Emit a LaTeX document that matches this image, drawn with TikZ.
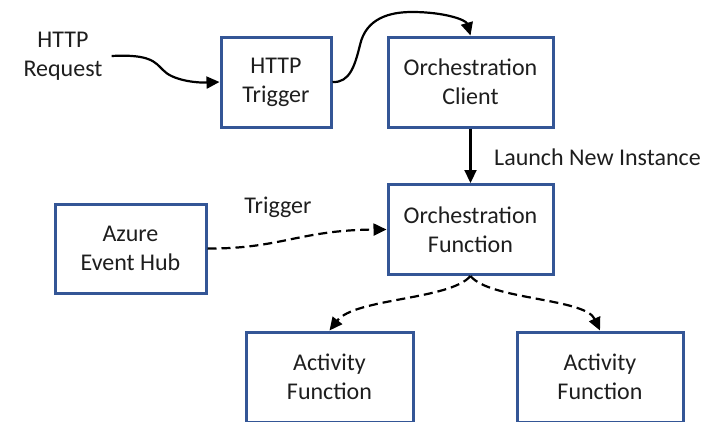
\documentclass[tikz,border=0pt]{standalone}
\usepackage{fontspec}
\setmainfont{Carlito}
\usetikzlibrary{arrows.meta}
\definecolor{boxblue}{RGB}{52,86,150}
\definecolor{txt}{RGB}{30,30,30}
\tikzset{
  box/.style={draw=boxblue, line width=3pt, fill=white, minimum width=#1, minimum height=90pt, align=center, inner sep=0pt, text=txt, font=\fontsize{24}{29}\selectfont},
  lbl/.style={align=center, inner sep=0pt, text=txt, font=\fontsize{24}{29}\selectfont},
  arr/.style={line width=2.2pt, -{Triangle[length=13pt,width=12pt]}},
  darr/.style={arr, dash pattern=on 9pt off 5pt}
}
\begin{document}
\begin{tikzpicture}[x=1pt,y=-1pt]
\useasboundingbox (0,0) rectangle (704,421);
\clip (0,0) rectangle (704,421);
\fill[white] (0,0) rectangle (704,421);
\node[box=110pt] (trig) at (276,82) {HTTP\\Trigger};
\node[box=165pt] (client) at (470.5,82) {Orchestration\\Client};
\node[box=165pt] (orch) at (470.5,229.5) {Orchestration\\Function};
\node[box=151pt, minimum height=89pt] (azure) at (130.5,248.5) {Azure\\Event Hub};
\node[box=167pt] (act1) at (329.5,377) {Activity\\Function};
\node[box=166pt] (act2) at (600,377) {Activity\\Function};
\node[lbl] (req) at (63,56) {HTTP\\Request};
\node[lbl, anchor=west] (launch) at (494,157) {Launch New Instance};
\node[lbl] (trg) at (278,207) {Trigger};
\coordinate (reqend) at ([xshift=9pt]req.east);
\draw[arr] (reqend) .. controls (150,54) and (155,62) .. (163,70) .. controls (172,80) and (195,83) .. (trig.west);
\draw[arr] (trig.east) .. controls (350,83) and (355,65) .. (360,45) .. controls (366,18) and (390,12) .. (412,12) .. controls (445,12) and (466,20) .. (client.north);
\draw[arr] (client.south) -- (orch.north);
\draw[darr] (azure.east) .. controls (280,249) and (300,230) .. (orch.west);
\draw[darr] (orch.south) .. controls (450,300) and (355,298) .. (act1.north);
\draw[darr] (orch.south) .. controls (490,300) and (585,298) .. (act2.north);
\end{tikzpicture}
\end{document}
